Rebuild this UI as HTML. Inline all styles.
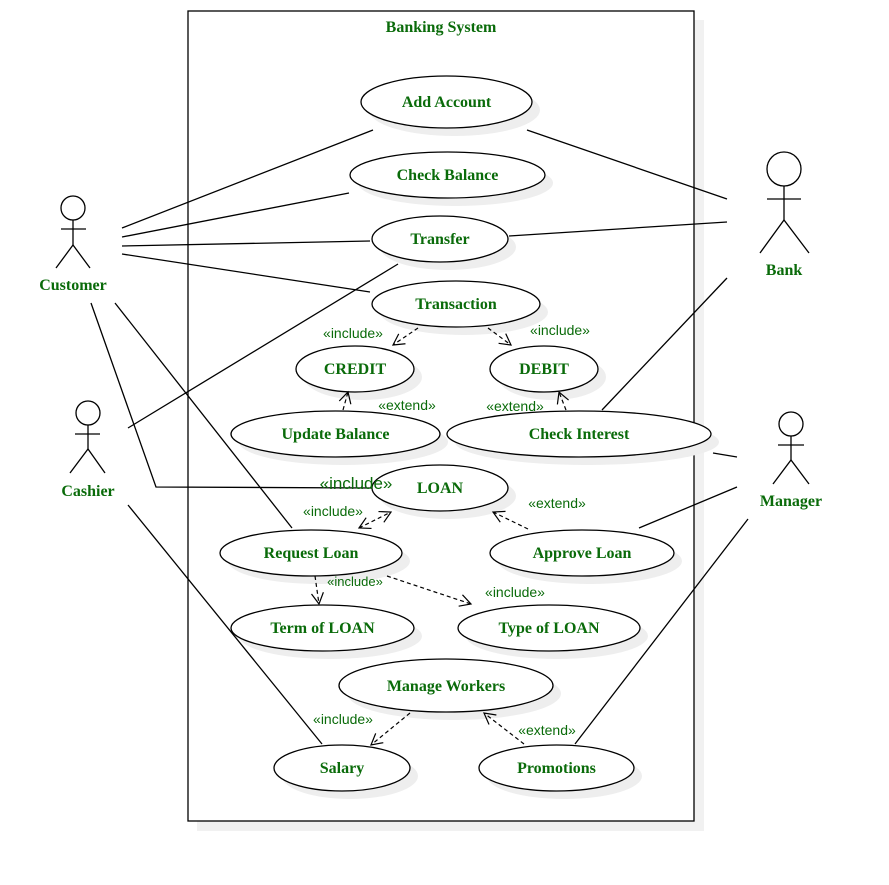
<!DOCTYPE html>
<html><head><meta charset="utf-8"><style>
html,body{margin:0;padding:0;background:#fff;}
svg{display:block;}
.t{font-family:"Liberation Serif",serif;font-weight:bold;font-size:16px;fill:#0a6b0a;text-anchor:middle;}
.l{font-family:"Liberation Sans",sans-serif;font-size:14px;fill:#0a6b0a;text-anchor:middle;}
.e{fill:#fff;stroke:#000;stroke-width:1.3;}
.s{fill:#eee;}
.a{stroke:#000;stroke-width:1.3;fill:none;}
.d{stroke:#000;stroke-width:1.2;fill:none;stroke-dasharray:4,3;}
</style></head><body>
<svg width="889" height="885" viewBox="0 0 889 885">
<defs>
<marker id="m" markerWidth="14" markerHeight="14" refX="12" refY="7" orient="auto" markerUnits="userSpaceOnUse">
<path d="M1,1 L12,7 L1,13" fill="none" stroke="#000" stroke-width="1.2"/></marker>
<marker id="ms" markerWidth="14" markerHeight="14" refX="2" refY="7" orient="auto" markerUnits="userSpaceOnUse">
<path d="M13,1 L2,7 L13,13" fill="none" stroke="#000" stroke-width="1.2"/></marker>
</defs>
<rect x="197" y="20" width="507" height="811" fill="#f1f1f1"/>
<rect x="188" y="11" width="506" height="810" fill="#fff" stroke="#000" stroke-width="1.3"/>
<text class="t" x="441" y="32">Banking System</text>

<!-- association lines -->
<g class="a">
<line x1="122" y1="228" x2="373" y2="130"/>
<line x1="122" y1="237" x2="349" y2="193"/>
<line x1="122" y1="246" x2="370" y2="241"/>
<line x1="122" y1="254" x2="370" y2="292"/>
<polyline points="91,303 156,487 372,488"/>
<line x1="115" y1="303" x2="292" y2="528"/>
<line x1="128" y1="428" x2="398" y2="264"/>
<line x1="128" y1="505" x2="322" y2="744"/>
<line x1="527" y1="130" x2="727" y2="199"/>
<line x1="509" y1="236" x2="727" y2="222"/>
<line x1="727" y1="278" x2="602" y2="410"/>
<line x1="713" y1="453" x2="737" y2="457"/>
<line x1="737" y1="487" x2="639" y2="528"/>
<line x1="748" y1="519" x2="575" y2="744"/>
</g>

<!-- ellipses with shadows -->
<g>
<ellipse class="s" cx="454.5" cy="110" rx="85.5" ry="26"/><ellipse class="e" cx="446.5" cy="102" rx="85.5" ry="26"/>
<ellipse class="s" cx="455.5" cy="183" rx="97.5" ry="23"/><ellipse class="e" cx="447.5" cy="175" rx="97.5" ry="23"/>
<ellipse class="s" cx="448" cy="247" rx="68" ry="23"/><ellipse class="e" cx="440" cy="239" rx="68" ry="23"/>
<ellipse class="s" cx="464" cy="312" rx="84" ry="23"/><ellipse class="e" cx="456" cy="304" rx="84" ry="23"/>
<ellipse class="s" cx="363" cy="377" rx="59" ry="23"/><ellipse class="e" cx="355" cy="369" rx="59" ry="23"/>
<ellipse class="s" cx="552" cy="377" rx="54" ry="23"/><ellipse class="e" cx="544" cy="369" rx="54" ry="23"/>
<ellipse class="s" cx="343.5" cy="442" rx="104.5" ry="23"/><ellipse class="e" cx="335.5" cy="434" rx="104.5" ry="23"/>
<ellipse class="s" cx="587" cy="442" rx="132" ry="23"/><ellipse class="e" cx="579" cy="434" rx="132" ry="23"/>
<ellipse class="s" cx="448" cy="496" rx="68" ry="23"/><ellipse class="e" cx="440" cy="488" rx="68" ry="23"/>
<ellipse class="s" cx="319" cy="561" rx="91" ry="23"/><ellipse class="e" cx="311" cy="553" rx="91" ry="23"/>
<ellipse class="s" cx="590" cy="561" rx="92" ry="23"/><ellipse class="e" cx="582" cy="553" rx="92" ry="23"/>
<ellipse class="s" cx="330.5" cy="636" rx="91.5" ry="23"/><ellipse class="e" cx="322.5" cy="628" rx="91.5" ry="23"/>
<ellipse class="s" cx="557" cy="636" rx="91" ry="23"/><ellipse class="e" cx="549" cy="628" rx="91" ry="23"/>
<ellipse class="s" cx="454" cy="693.5" rx="107" ry="26.5"/><ellipse class="e" cx="446" cy="685.5" rx="107" ry="26.5"/>
<ellipse class="s" cx="350" cy="776" rx="68" ry="23"/><ellipse class="e" cx="342" cy="768" rx="68" ry="23"/>
<ellipse class="s" cx="564.5" cy="776" rx="77.5" ry="23"/><ellipse class="e" cx="556.5" cy="768" rx="77.5" ry="23"/>
</g>
<g class="t">
<text x="446.5" y="107">Add Account</text>
<text x="447.5" y="180">Check Balance</text>
<text x="440" y="244">Transfer</text>
<text x="456" y="309">Transaction</text>
<text x="355" y="374">CREDIT</text>
<text x="544" y="374">DEBIT</text>
<text x="335.5" y="439">Update Balance</text>
<text x="579" y="439">Check Interest</text>
<text x="440" y="493">LOAN</text>
<text x="311" y="558">Request Loan</text>
<text x="582" y="558">Approve Loan</text>
<text x="322.5" y="633">Term of LOAN</text>
<text x="549" y="633">Type of LOAN</text>
<text x="446" y="691">Manage Workers</text>
<text x="342" y="773">Salary</text>
<text x="556.5" y="773">Promotions</text>
</g>

<!-- dashed arrows -->
<g class="d">
<line x1="418" y1="328" x2="393" y2="345" marker-end="url(#m)"/>
<line x1="488" y1="328" x2="511" y2="345" marker-end="url(#m)"/>
<line x1="343" y1="410" x2="348" y2="392" marker-end="url(#m)"/>
<line x1="566" y1="410" x2="559" y2="392" marker-end="url(#m)"/>
<line x1="359" y1="528" x2="391" y2="512" marker-end="url(#m)" marker-start="url(#ms)"/>
<line x1="528" y1="529" x2="493" y2="512" marker-end="url(#m)"/>
<line x1="315" y1="576" x2="319" y2="604" marker-end="url(#m)"/>
<line x1="387" y1="576" x2="471" y2="604" marker-end="url(#m)"/>
<line x1="410" y1="713" x2="371" y2="745" marker-end="url(#m)"/>
<line x1="524" y1="744" x2="484" y2="713" marker-end="url(#m)"/>
</g>
<g class="l">
<text x="353" y="338">«include»</text>
<text x="560" y="335">«include»</text>
<text x="407" y="410">«extend»</text>
<text x="515" y="411">«extend»</text>
<text x="356" y="489" style="font-size:17px">«include»</text>
<text x="333" y="516">«include»</text>
<text x="557" y="508">«extend»</text>
<text x="355" y="586" style="font-size:13px">«include»</text>
<text x="515" y="597">«include»</text>
<text x="343" y="724">«include»</text>
<text x="547" y="735">«extend»</text>
</g>

<!-- actors -->
<g class="a">
<circle cx="73" cy="208" r="12" fill="#fff"/>
<line x1="73" y1="220" x2="73" y2="245"/><line x1="61" y1="229" x2="86" y2="229"/>
<polyline points="56,268 73,245 90,268"/>
<circle cx="784" cy="169" r="17" fill="#fff"/>
<line x1="784" y1="186" x2="784" y2="220"/><line x1="767" y1="199" x2="801" y2="199"/>
<polyline points="760,253 784,220 809,253"/>
<circle cx="88" cy="413" r="12" fill="#fff"/>
<line x1="88" y1="425" x2="88" y2="449"/><line x1="75" y1="434" x2="100" y2="434"/>
<polyline points="70,473 88,449 105,473"/>
<circle cx="791" cy="424" r="12" fill="#fff"/>
<line x1="791" y1="436" x2="791" y2="460"/><line x1="778" y1="445" x2="804" y2="445"/>
<polyline points="773,484 791,460 809,484"/>
</g>
<g class="t">
<text x="73" y="290">Customer</text>
<text x="784" y="275">Bank</text>
<text x="88" y="496">Cashier</text>
<text x="791" y="506">Manager</text>
</g>
</svg>
</body></html>
